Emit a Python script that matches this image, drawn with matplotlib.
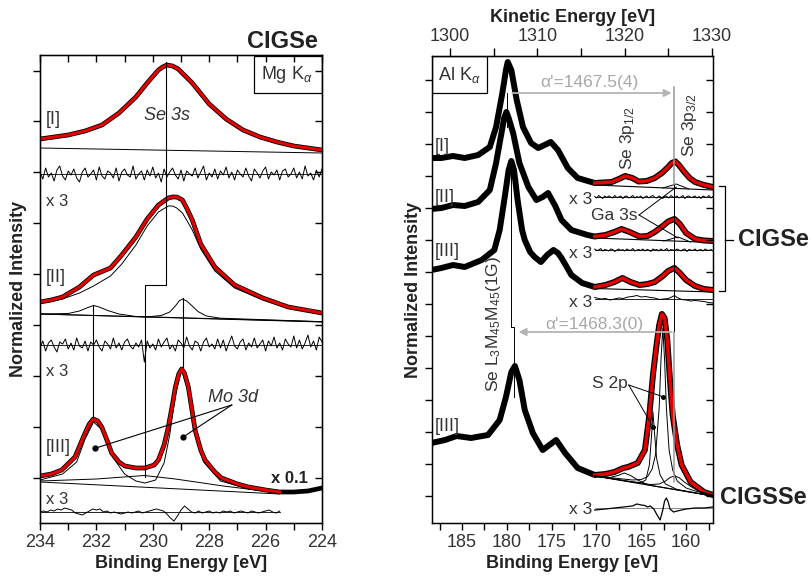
# XPS detail spectra: Se 3s / Mo 3d (Mg Ka) and Se 3p / S 2p region (Al Ka)

import numpy as np
import matplotlib
matplotlib.use("Agg")
import matplotlib.pyplot as plt
from matplotlib.ticker import MultipleLocator, FixedLocator
from matplotlib.patches import Rectangle
from matplotlib.lines import Line2D

plt.rcParams["font.family"] = ["Liberation Sans", "DejaVu Sans"]
plt.rcParams["mathtext.fontset"] = "custom"
plt.rcParams["mathtext.rm"] = "Liberation Sans"
plt.rcParams["mathtext.it"] = "Liberation Sans:italic"
plt.rcParams["mathtext.bf"] = "Liberation Sans:bold"

TXT = "#333333"
GREY = "#b4b4b4"
RED = "#e60000"

# LEFT PANEL DATA (binding energy [eV], offset normalized intensity)

# [I] Se 3s
BE_I = [234.0, 233.5, 233.0, 232.4, 231.8, 231.2, 230.6, 230.2, 229.8, 229.65, 229.5,
        229.3, 229.1, 228.6, 228.0, 227.4, 226.8, 226.2, 225.6, 225.0, 224.5, 224.0]
Y_I = [441, 443, 445, 449, 455, 467, 483, 497, 510, 513, 515,
       514, 511, 497, 476, 461, 450, 443, 438, 434, 432, 430]
BG_I_BE = [234.0, 224.0]
BG_I_Y = [432, 427]
RES_I_ZERO = 406
RES_I = [2, -5, 6, -3, 1, -7, 4, 8, -2, -6,
         3, -1, 5, -4, -8, 2, 6, -3, 0, 4,
         -6, 7, -2, -5, 3, 1, -4, 6, -7, 2,
         5, -1, -3, 8, -5, 0, 3, -6, 4, -2,
         7, -4, 1, -8, 5, -3, 2, 6, -1, -5,
         4, -7, 3, 0, -2, 6, -4, 2, 8, -6,
         1, -3, 5, -5, 3, -1, 7, -4, 2, -6,
         4, 0, -3, 6, -2, -7, 5, 1, -4, 3,
         7, -5, 2, -1, 4, -6, 3, 5, -3, 0,
         6, -4, 2, -5, 8, -2, 1, -6, 4, -3,
         5]

# [II] Se 3s with satellites
BE_II = [234.0, 233.6, 233.2, 232.6, 232.1, 231.5, 231.1, 230.6, 230.2, 229.8, 229.45,
         229.3, 229.15, 228.95, 228.8, 228.6, 228.3, 227.8, 227.1, 226.1, 225.2, 224.0]
Y_II = [278, 280, 283, 293, 305, 312, 325, 343, 361, 375, 382,
        383, 383, 380, 372, 360, 336, 313, 295, 282, 273, 267]
Y_II_MAIN = [277, 279, 281, 287, 294, 304, 316, 335, 354, 368, 374,
             374, 372, 367, 360, 350, 331, 309, 292, 280, 272, 266]
BG_II_BE = [234.0, 224.0]
BG_II_Y = [266, 258]
SAT1_BE = [234.0, 233.0, 232.6, 232.3, 232.1, 231.9, 231.6, 231.2, 230.6, 224.0]
SAT1_Y = [266, 266.5, 269, 272.5, 274.5, 273, 269.5, 266, 263.5, 258.3]
SAT2_BE = [234.0, 230.2, 229.7, 229.4, 229.2, 229.05, 228.94, 228.8, 228.6, 228.4, 228.1, 227.6, 224.0]
SAT2_Y = [266, 263.1, 264.5, 268, 274, 279.5, 281, 279, 274, 268.5, 264, 261.8, 258.3]
RES_II_ZERO = 235
RES_II = [-3, 4, -6, 2, 5, -2, -7, 3, 1, 6,
          -4, 2, -5, 7, -1, -3, 4, -6, 3, 0,
          5, -2, -6, 4, 1, -4, 7, -3, 2, -5,
          3, 6, -1, -4, 2, -2, 5, -17, 4, -3,
          1, -5, 6, -2, 3, 7, -4, 0, -6, 5,
          2, -3, 8, -1, -5, 4, 2, -6, 3, 7,
          -2, 1, -4, 6, -3, 5, -6, 2, 9, -1,
          -4, 3, 6, -5, 2, -2, 7, -3, 1, 5,
          -6, 4, -1, 8, -3, 2, -5, 6, 1, -2,
          9, -3, 5, -4, 2, 10, -2, 4, -5, 8,
          3]

# [III] Mo 3d (x 0.1)
BE_MO = [234.0, 233.6, 233.23, 232.76, 232.4, 232.25, 232.11, 231.95, 231.81, 231.6, 231.46,
         231.2, 230.99, 230.6, 230.28, 229.95, 229.8, 229.6, 229.45, 229.3, 229.2, 229.08,
         228.98, 228.88, 228.74, 228.6, 228.5, 228.3, 228.15, 227.8, 227.56, 227.0, 226.61,
         226.0, 225.5, 225.0, 224.5, 224.0]
Y_MO = [104, 106, 110, 123, 147, 156, 161, 159, 153, 138, 127,
        118, 114, 112, 112, 115, 120, 135, 153, 176, 193, 206,
        211, 207, 193, 168, 150, 130, 120, 108, 102, 96, 93,
        90, 88, 88, 89, 92]
FIT_MO_END = 225.5
MO_COMP_BE = [234.0, 233.2, 232.7, 232.4, 232.1, 231.8, 231.4, 231.0, 230.6, 230.28, 229.9,
              229.6, 229.4, 229.2, 228.98, 228.75, 228.5, 228.2, 227.6, 226.6, 225.5]
MO_COMP_Y = [100, 106, 118, 141, 158, 150, 122, 106, 99, 97, 100,
             117, 145, 185, 210, 190, 148, 118, 99, 91, 87]
MO_BG1_BE = [234.0, 225.5]
MO_BG1_Y = [98, 86]
MO_BG2_BE = [234.0, 232.0, 230.3, 229.2, 227.5, 225.5]
MO_BG2_Y = [99, 101, 104.5, 101, 94, 87]
RES_III_ZERO = 68
RES_III = [0, 1, 0, 2, 1, 3, 2, 4, 3, 2,
           -1, -2, -3, -1, 1, 3, 2, 3, 0, 1,
           -1, 0, -1, -2, -1, 0, -1, 0, 1, -1,
           0, 1, 2, 3, 2, 1, -2, -6, -9, -4,
           2, 6, 3, 0, -1, 1, -1, 0, 1, -1,
           0, -1, 1, 0, 1, -1, 0, 1, 0, -1,
           1, 0, -1, 0, 1, 2, 0, -1, 1]

# RIGHT PANEL DATA (Al Ka)

# [I] CIGSe
BE_RI = [188.4, 187.3, 186.0, 184.7, 183.2, 181.9, 181.2, 180.5, 180.1, 179.9, 179.5, 178.9,
         178.2, 177.3, 176.5, 175.8, 175.1, 174.3, 173.2, 172.1, 170.2, 168.3, 167.5, 166.8,
         166.0, 165.3, 164.4, 163.5, 162.7, 162.0, 161.6, 161.2, 160.8, 160.2, 159.6, 159.0,
         158.0, 157.0]
Y_RI = [422, 422, 424, 422, 425, 433, 453, 487, 510, 518, 510, 480,
        453, 437, 432, 435, 438, 430, 412, 402, 397, 398, 401, 404,
        402, 398.5, 399, 402, 407, 413, 417, 418.5, 415, 408, 402, 398,
        395, 393]
# [II] CIGSe
BE_RII = [188.4, 187.3, 186.0, 184.7, 183.2, 181.9, 181.2, 180.6, 180.3, 180.05, 179.8, 179.3,
          178.6, 177.6, 176.7, 176.0, 175.4, 174.6, 173.9, 172.8, 171.0, 170.2, 169.0, 168.0,
          167.2, 166.3, 165.2, 164.3, 163.5, 162.6, 162.0, 161.3, 160.7, 160.0, 159.0, 158.0,
          157.0]
Y_RII = [371, 372, 375, 374, 378, 390, 417, 447, 462, 468, 462, 447,
         417, 393, 380, 383, 387, 374, 360, 350, 345, 343.5, 345, 348,
         351, 348, 343.5, 344, 348, 354, 358.5, 361, 356, 347, 341, 339.5,
         339]
# [III] CIGSe
BE_RIII = [188.4, 187.3, 186.0, 184.7, 182.8, 181.4, 180.8, 180.2, 179.8, 179.5, 179.2, 178.8,
           178.3, 178.0, 177.4, 176.9, 176.2, 175.5, 174.8, 174.3, 173.9, 172.8, 171.6, 170.2,
           169.0, 168.0, 167.1, 166.2, 165.2, 164.3, 163.5, 162.6, 162.0, 161.3, 160.7, 160.0,
           159.0, 158.0, 157.0]
Y_RIII = [310, 312, 315, 313, 320, 330, 350, 385, 410, 419, 410, 380,
          350, 340, 328, 323, 318, 325, 330, 327, 322, 305, 297, 293,
          295, 298, 302, 298, 295, 296, 298, 304, 309, 312, 307, 300,
          294, 291, 290]
# [III] CIGSSe
BE_RIV = [188.4, 186.9, 185.6, 184.0, 182.1, 180.8, 180.1, 179.5, 179.1, 178.6, 178.0, 177.1,
          176.0, 174.5, 173.5, 172.1, 170.2, 169.0, 168.0, 167.0, 166.5, 165.4, 164.6, 164.1,
          163.7, 163.3, 163.0, 162.7, 162.4, 162.1, 161.8, 161.5, 161.0, 160.5, 159.5, 158.0,
          157.0]
Y_RIV = [137, 140, 144, 142, 145, 160, 183, 208, 214, 200, 170, 147,
         130, 140, 127, 112, 105, 106, 108, 112, 113, 117, 130, 165,
         205, 235, 255, 266, 262, 240, 200, 165, 135, 115, 98, 88,
         85]
FIT_START = 170.2

# backgrounds of the Se 3p / S 2p fits
BG_R_BE = [170.2, 157.0]
BG_RI_Y = [395, 390]
BG_RII_Y = [342, 337.5]
BG_RIII_Y = [291.5, 288]
BG_RIV_Y = [104, 84]
GA_I_BE = [162.6, 161.1, 159.7]
GA_I_Y = [392, 396, 391]
GA_II_BE = [162.5, 160.9, 159.5]
GA_II_Y = [339, 343, 338]

# CIGSSe fit components
S1_BE = [170.2, 166.0, 165.0, 164.5, 164.1, 163.85, 163.7, 163.55, 163.3, 162.9, 162.3, 161.0, 157.0]
S1_Y = [104, 98, 97.5, 100, 115, 145, 168, 150, 122, 105, 96, 90.5, 84]
S2_BE = [170.2, 166.0, 165.0, 164.3, 163.8, 163.4, 163.0, 162.8, 162.6, 162.4, 162.2, 161.9,
         161.5, 161.0, 160.0, 159.0, 157.0]
S2_Y = [104, 100, 100.5, 103.4, 110.7, 125.7, 173, 221, 252, 220, 172, 130,
        110, 99, 92, 89, 85]
SE32_BE = [170.2, 164.0, 163.0, 162.3, 161.8, 161.3, 160.8, 160.2, 159.4, 158.5, 157.0]
SE32_Y = [104, 95.5, 96, 99, 102.5, 104, 102.5, 98, 93, 88.5, 85]
SE12_BE = [170.2, 168.5, 167.6, 166.9, 166.2, 165.3, 164.2, 157.0]
SE12_Y = [104, 102.5, 104.5, 107, 104.5, 99.5, 95, 84]

# x3 residuals of the right panel
RES_R1_ZERO = 383
RES_R1 = [0.5, -1, 1.5, 0, -1.5, 1, -0.5, 1, 0, -1, 1.5, -0.5, 0, 1, -1.5, 0.5, 1, -1, 0, 1.5,
          -1, 0.5, -0.5, 1, -1.5, 0, 1, -1, 0.5, 1.5, -0.5, -1, 1, 0, -1.5, 1, 0.5, -1, 1.5, 0,
          -0.5, 1, -1, 0, 1.5, -1.5, 0.5, 1, -0.5, 0, 1, -1, 0.5, -1.5, 1, 0, -0.5, 1.5, -1, 0.5]
RES_R2_ZERO = 330
RES_R2 = [1, -0.5, 0, 1.5, -1, 0.5, 0, -1, 1, 0.5, -1.5, 0, 1, -0.5, 0.5, -1, 1, 0, -0.5, 1.5,
          -1, 0, 0.5, -0.5, 1, -1, 0.5, 0, -1.5, 1, 0, 0.5, -1, 1, -0.5, 0, 1.5, -1, 0.5, 0,
          -0.5, 1, 0, -1, 0.5, 1, -1.5, 0.5, 0, -0.5, 1, -1, 0, 0.5, -1, 1, 0, -0.5, 0.5, -1]
RES_R3_ZERO = 281
RES_R3_BE = [170.2, 169.5, 169.0, 168.5, 168.0, 167.5, 167.0, 166.5, 166.0, 165.5, 165.0, 164.5,
             164.0, 163.5, 163.0, 162.5, 162.0, 161.6, 161.3, 161.0, 160.5, 160.0, 159.5, 159.0,
             158.5, 158.0, 157.5, 157.0]
RES_R3 = [1.5, 0, 0.5, -1, 0, 1, 0.5, 2, 2.5, 3.5, 2, 2.5, 1.5, 1, -0.5, 0, 0.5, 2, 3.5, 1.5,
          -0.5, -1, -2, -1.5, -2, -2.5, -3.5, -4]
RES_R4_ZERO = 72
RES_R4_BE = [170.2, 169.0, 168.0, 167.0, 166.5, 166.0, 165.5, 165.0, 164.6, 164.3, 164.0, 163.6,
             163.3, 162.9, 162.6, 162.4, 162.2, 162.0, 161.8, 161.4, 161.0, 160.5, 160.0, 159.0,
             158.0, 157.0]
RES_R4 = [70, 71, 72, 73, 73.5, 74, 76, 75, 74.5, 73, 74, 71,
          66, 60, 70, 79, 82, 78, 71, 68, 69, 70, 71, 72,
          72, 73]

KE_TICKS = [1300, 1310, 1320, 1330]
KE_MINOR = [1305, 1315, 1325]


def tick_style(ax):
    ax.tick_params(axis="both", which="both", direction="out", length=5, width=1,
                   colors="black", labelcolor=TXT, labelsize=13, pad=3)
    for s in ax.spines.values():
        s.set_linewidth(1)


def residual(ax, be, dev, zero):
    ax.plot([be[0], be[-1]], [zero, zero], color="black", lw=0.6, zorder=3)
    ax.plot(be, np.array(dev) + zero, color="black", lw=0.7, zorder=3)


fig = plt.figure(figsize=(8.11, 5.8), dpi=100)

# LEFT PANEL

axL = fig.add_axes([40 / 811, 57 / 580, 282 / 811, 468 / 580])
axL.set_xlim(234, 224)
axL.set_ylim(57, 525)

# [I]
axL.plot(BE_I, Y_I, color="black", lw=3.4, zorder=2)
axL.plot(BE_I, Y_I, color=RED, lw=2.2, zorder=4)
axL.plot(BG_I_BE, BG_I_Y, color="black", lw=0.7, zorder=3)
residual(axL, np.linspace(234, 224, len(RES_I)), RES_I, RES_I_ZERO)

# [II]
axL.plot(BE_II, Y_II, color="black", lw=3.4, zorder=2)
axL.plot(BE_II, Y_II_MAIN, color="black", lw=0.7, zorder=3)
axL.plot(BE_II, Y_II, color=RED, lw=2.2, zorder=4)
axL.plot(BG_II_BE, BG_II_Y, color="black", lw=0.7, zorder=3)
axL.plot(SAT1_BE, SAT1_Y, color="black", lw=0.7, zorder=3)
axL.plot(SAT2_BE, SAT2_Y, color="black", lw=0.7, zorder=3)
residual(axL, np.linspace(234, 224, len(RES_II)), RES_II, RES_II_ZERO)

# [III] Mo 3d
axL.plot(BE_MO, Y_MO, color="black", lw=3.4, zorder=2)
axL.plot(MO_COMP_BE, MO_COMP_Y, color="black", lw=0.7, zorder=3)
axL.plot(MO_BG1_BE, MO_BG1_Y, color="black", lw=0.7, zorder=3)
axL.plot(MO_BG2_BE, MO_BG2_Y, color="black", lw=0.7, zorder=3)
mo_fit = [(b, y) for b, y in zip(BE_MO, Y_MO) if b >= FIT_MO_END]
axL.plot([p[0] for p in mo_fit], [p[1] for p in mo_fit], color=RED, lw=2.2, zorder=4)
residual(axL, np.linspace(234, FIT_MO_END, len(RES_III)), RES_III, RES_III_ZERO)

# guide lines linking the peak positions
axL.plot([229.54, 229.54, 230.28, 230.28], [518, 295, 295, 103], color="black", lw=0.8, zorder=5)
axL.plot([232.11, 232.11], [275, 162], color="black", lw=0.8, zorder=5)
axL.plot([228.94, 228.94], [282, 212], color="black", lw=0.8, zorder=5)

# Mo 3d pointer
axL.plot([227.2, 232.05], [175, 131.7], color="black", lw=0.8, zorder=5)
axL.plot([227.2, 228.94], [175, 142.7], color="black", lw=0.8, zorder=5)
axL.plot([232.05, 228.94], [131.7, 142.7], "o", color="black", ms=3.5, zorder=6)

axL.text(233.8, 460, "[I]", color=TXT, fontsize=13, va="center")
axL.text(233.8, 379, "x 3", color=TXT, fontsize=12, va="center")
axL.text(233.8, 302, "[II]", color=TXT, fontsize=13, va="center")
axL.text(233.8, 209, "x 3", color=TXT, fontsize=12, va="center")
axL.text(233.8, 132, "[III]", color=TXT, fontsize=13, va="center")
axL.text(233.8, 80, "x 3", color=TXT, fontsize=12, va="center")
axL.text(229.5, 465, "Se 3s", color=TXT, fontsize=13, style="italic", ha="center", va="center",
         zorder=7)
axL.text(227.17, 183, "Mo 3d", color=TXT, fontsize=13, style="italic", ha="center", va="center")
axL.text(224.5, 101.5, "x 0.1", color="#222222", fontsize=12, fontweight="bold",
         ha="right", va="center")

axL.add_patch(Rectangle((0.759, 0.919), 0.241, 0.079, transform=axL.transAxes,
                        fill=False, lw=0.9, zorder=8))
axL.text(0.875, 0.958, "Mg K$_\\alpha$", transform=axL.transAxes, color=TXT,
         fontsize=13, ha="center", va="center")

tick_style(axL)
axL.xaxis.set_major_locator(MultipleLocator(2))
axL.xaxis.set_minor_locator(MultipleLocator(1))
axL.tick_params(axis="x", which="minor", length=5)
axL.set_yticks(np.arange(102.3, 512, 50.9))
axL.set_yticklabels([])
axL.set_xlabel("Binding Energy [eV]", fontsize=13, fontweight="bold", color="#222222")
axL.xaxis.set_label_coords(0.5, -0.068)
axL.set_ylabel("Normalized Intensity", fontsize=13, fontweight="bold", color="#222222")
axL.yaxis.set_label_coords(-0.045, 0.5)

axL_r = axL.twinx()
axL_r.set_ylim(axL.get_ylim())
axL_r.set_yticks(np.arange(102.3, 512, 50.9))
axL_r.tick_params(axis="y", direction="in", length=5, width=1, labelright=False)
axL_t = axL.twiny()
axL_t.set_xlim(axL.get_xlim())
axL_t.xaxis.set_major_locator(MultipleLocator(1))
axL_t.tick_params(axis="x", direction="in", length=5, width=1, labeltop=False)

fig.text(318 / 811, 1 - 41 / 580, "CIGSe", fontsize=17, fontweight="bold", color="#222222",
         ha="right", va="center")

# RIGHT PANEL

axR = fig.add_axes([432 / 811, 57 / 580, 281 / 811, 467 / 580])
axR.set_xlim(188.35, 157.0)
axR.set_ylim(57, 524)

for be, y in [(BE_RI, Y_RI), (BE_RII, Y_RII), (BE_RIII, Y_RIII), (BE_RIV, Y_RIV)]:
    axR.plot(be, y, color="black", lw=4.3, zorder=2, solid_capstyle="round")
    fit = [(b, v) for b, v in zip(be, y) if b <= FIT_START]
    axR.plot([p[0] for p in fit], [p[1] for p in fit], color=RED, lw=2.5, zorder=4)

for bg_y in [BG_RI_Y, BG_RII_Y, BG_RIII_Y, BG_RIV_Y]:
    axR.plot(BG_R_BE, bg_y, color="black", lw=0.8, zorder=3)
axR.plot(GA_I_BE, GA_I_Y, color="black", lw=0.7, zorder=3)
axR.plot(GA_II_BE, GA_II_Y, color="black", lw=0.7, zorder=3)
for cb, cy in [(S1_BE, S1_Y), (S2_BE, S2_Y), (SE32_BE, SE32_Y), (SE12_BE, SE12_Y)]:
    axR.plot(cb, cy, color="black", lw=0.7, zorder=5)

residual(axR, np.linspace(FIT_START, 157.0, len(RES_R1)), RES_R1, RES_R1_ZERO)
residual(axR, np.linspace(FIT_START, 157.0, len(RES_R2)), RES_R2, RES_R2_ZERO)
residual(axR, RES_R3_BE, RES_R3, RES_R3_ZERO)
axR.plot([FIT_START, 157.0], [RES_R4_ZERO, RES_R4_ZERO], color="#777777", lw=0.6, zorder=3)
axR.plot(RES_R4_BE, RES_R4, color="black", lw=0.9, zorder=3)

# Auger parameter arrows and guide lines
axR.plot([161.3, 161.3], [493, 395], color="#999999", lw=1.1, zorder=5)
axR.plot([161.3, 161.3], [395, 248], color="black", lw=0.7, zorder=5)
axR.plot([161.3, 161.3], [248, 98], color="#999999", lw=1.1, zorder=5)
axR.plot([180.0, 180.0], [487, 453], color="black", lw=0.7, zorder=5)
axR.plot([179.5, 179.5, 179.2, 179.2], [418, 253, 253, 183], color="black", lw=0.7, zorder=5)
axR.annotate("", xy=(161.3, 487), xytext=(179.7, 487),
             arrowprops=dict(arrowstyle="-|>", color=GREY, lw=1.3, mutation_scale=11), zorder=6)
axR.annotate("", xy=(179.0, 248), xytext=(161.3, 248),
             arrowprops=dict(arrowstyle="-|>", color=GREY, lw=1.3, mutation_scale=11), zorder=6)
axR.text(170.75, 497, "α'=1467.5(4)", color="#a8a8a8", fontsize=12.5, ha="center", va="center")
axR.text(170.2, 255, "α'=1468.3(0)", color="#a8a8a8", fontsize=12.5, ha="center", va="center")

axR.text(166.5, 410, "Se 3p$_{1/2}$", color=TXT, fontsize=12.5, rotation=90,
         ha="center", va="bottom")
axR.text(159.6, 423, "Se 3p$_{3/2}$", color=TXT, fontsize=12.5, rotation=90,
         ha="center", va="bottom")
axR.text(181.5, 188, "Se L$_3$M$_{45}$M$_{45}$(1G)", color=TXT, fontsize=12.5, rotation=90,
         ha="center", va="bottom")

# Ga 3s and S 2p pointers
axR.text(165.4, 365, "Ga 3s", color=TXT, fontsize=12.5, ha="right", va="center")
axR.plot([165.25, 161.1], [365, 393], color="black", lw=0.7, zorder=5)
axR.plot([165.25, 160.9], [365, 342], color="black", lw=0.7, zorder=5)
axR.text(168.5, 196.7, "S 2p", color=TXT, fontsize=12.5, ha="center", va="center")
axR.plot([166.4, 163.7], [195, 153.3], color="black", lw=0.7, zorder=6)
axR.plot([166.4, 162.6], [195, 183.3], color="black", lw=0.7, zorder=6)
axR.plot([163.7, 162.6], [153.3, 183.3], "o", color="black", ms=2.5, zorder=6)

axR.text(188.0, 433.5, "[I]", color=TXT, fontsize=13, va="center")
axR.text(188.0, 382.5, "[II]", color=TXT, fontsize=13, va="center")
axR.text(188.0, 328.5, "[III]", color=TXT, fontsize=13, va="center")
axR.text(188.0, 153.5, "[III]", color=TXT, fontsize=13, va="center")
for yy in [380, 326.5, 277.5, 70]:
    axR.text(170.5, yy, "x 3", color=TXT, fontsize=12.5, ha="right", va="center")

axR.add_patch(Rectangle((0.0, 0.921), 0.196, 0.079, transform=axR.transAxes,
                        fill=False, lw=0.9, zorder=8))
axR.text(0.098, 0.96, "Al K$_\\alpha$", transform=axR.transAxes, color=TXT,
         fontsize=13, ha="center", va="center")

tick_style(axR)
axR.xaxis.set_major_locator(MultipleLocator(5))
axR.xaxis.set_minor_locator(MultipleLocator(2.5))
axR.set_yticks(np.arange(84, 501, 32))
axR.set_yticklabels([])
axR.set_xlabel("Binding Energy [eV]", fontsize=13, fontweight="bold", color="#222222")
axR.xaxis.set_label_coords(0.5, -0.068)
axR.set_ylabel("Normalized Intensity", fontsize=13, fontweight="bold", color="#222222")
axR.yaxis.set_label_coords(-0.037, 0.5)

axR_r = axR.twinx()
axR_r.set_ylim(axR.get_ylim())
axR_r.set_yticks(np.arange(84, 501, 32))
axR_r.tick_params(axis="y", direction="in", length=5, width=1, labelright=False)

# kinetic energy scale on top
ke = axR.secondary_xaxis("top", functions=(lambda b: 1300 + (186.34 - b) * 1.026,
                                           lambda k: 186.34 - (k - 1300) / 1.026))
ke.xaxis.set_major_locator(FixedLocator(KE_TICKS))
ke.xaxis.set_minor_locator(FixedLocator(KE_MINOR))
ke.tick_params(axis="x", which="both", direction="out", length=6, width=1,
               labelcolor=TXT, labelsize=13, pad=2)
ke.set_xlabel("Kinetic Energy [eV]", fontsize=13, fontweight="bold", color="#222222", labelpad=4)

# CIGSe bracket and sample labels
def fig_line(xs, ys):
    fig.add_artist(Line2D([x / 811 for x in xs], [1 - y / 580 for y in ys],
                          transform=fig.transFigure, color="black", lw=0.9))


fig_line([719, 725, 725, 719], [186, 186, 291, 291])
fig_line([725, 733], [240, 240])
fig.text(738 / 811, 1 - 240 / 580, "CIGSe", fontsize=17, fontweight="bold", color="#222222",
         ha="left", va="center")
fig.text(720 / 811, 1 - 497 / 580, "CIGSSe", fontsize=17, fontweight="bold", color="#222222",
         ha="left", va="center")

fig.savefig("out.png", dpi=100)
